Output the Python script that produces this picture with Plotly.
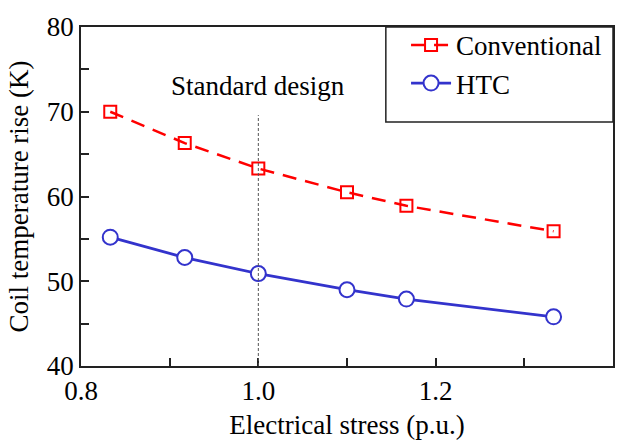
import plotly.graph_objects as go

stress = [0.833, 0.917, 1.0, 1.1, 1.167, 1.333]
conventional = [70.0, 66.3, 63.3, 60.5, 58.9, 55.9]
htc = [55.2, 52.8, 50.9, 49.0, 47.9, 45.8]
x_ticks = [0.8, 1.0, 1.2, 1.4]
x_tick_labels = ["0.8", "1.0", "1.2", "1.4"]
y_ticks = [40, 50, 60, 70, 80]
standard_x = 1.0
standard_top = 69.6

FONT = "Liberation Serif, Times New Roman, serif"
FS = 27

fig = go.Figure()
fig.add_trace(go.Scatter(
    x=stress, y=conventional, name="Conventional", mode="lines+markers",
    line=dict(color="#ff0000", width=2.5, dash="14px,9px"),
    marker=dict(symbol="square-open", size=12, color="#ff0000", line=dict(width=2)),
))
fig.add_trace(go.Scatter(
    x=stress, y=htc, name="HTC", mode="lines+markers",
    line=dict(color="#3333cc", width=2.8),
    marker=dict(symbol="circle", size=15, color="white", line=dict(color="#3333cc", width=2)),
))

fig.add_shape(type="line", x0=standard_x, x1=standard_x, y0=40, y1=standard_top,
              xref="x", yref="y", line=dict(color="#555555", width=1, dash="3px,2px"))
fig.add_annotation(x=standard_x, y=standard_top, yshift=12, text="Standard design",
                   showarrow=False, xanchor="center", yanchor="bottom",
                   font=dict(family=FONT, size=FS, color="black"))

# legend frame
fig.add_shape(type="rect", xref="paper", yref="paper", x0=0.573, x1=1.0, y0=0.7195, y1=1.0,
              line=dict(color="#222222", width=1.5), fillcolor="rgba(0,0,0,0)", layer="above")

axis_common = dict(showline=True, linecolor="#222222", linewidth=1.5, mirror=True,
                   ticks="inside", ticklen=8, tickcolor="#222222", tickwidth=1.5,
                   showgrid=False, zeroline=False,
                   tickfont=dict(family=FONT, size=FS, color="black"))

fig.update_xaxes(range=[0.8, 1.4], tickvals=x_ticks, ticktext=x_tick_labels,
                 minor=dict(tickvals=[0.9, 1.1, 1.3], ticks="inside", ticklen=8,
                            tickcolor="#222222", tickwidth=1.5),
                 title=dict(text="Electrical stress (p.u.)", font=dict(family=FONT, size=FS, color="black"),
                            standoff=10),
                 **axis_common)
fig.update_yaxes(range=[40, 80], tickvals=y_ticks,
                 minor=dict(tickvals=[45, 55, 65, 75], ticks="inside", ticklen=8,
                            tickcolor="#222222", tickwidth=1.5),
                 title=dict(text="Coil temperature rise (K)", font=dict(family=FONT, size=FS, color="black"),
                            standoff=10),
                 **axis_common)

fig.update_layout(
    width=629, height=447,
    margin=dict(l=81, r=16, t=16, b=78),
    plot_bgcolor="white", paper_bgcolor="white",
    font=dict(family=FONT, color="black"),
    legend=dict(x=0.611, y=1.018, xanchor="left", yanchor="top",
                borderwidth=0, bgcolor="rgba(0,0,0,0)",
                font=dict(family=FONT, size=FS, color="black"),
                itemwidth=40, tracegroupgap=0),
    showlegend=True,
)

fig.write_html("out.html")
